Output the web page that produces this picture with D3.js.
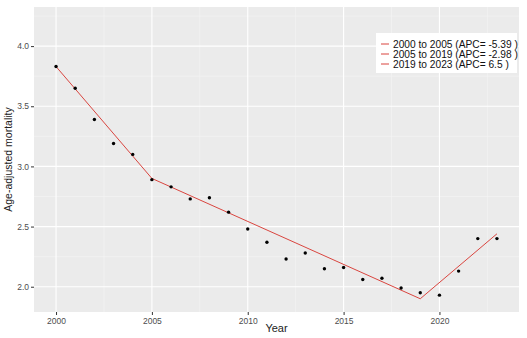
<!DOCTYPE html>
<html><head><meta charset="utf-8">
<script src="https://cdn.jsdelivr.net/npm/d3@7"></script>
<style>body{margin:0;background:#fff}svg{display:block}text{font-family:"Liberation Sans",Arial,sans-serif}</style>
</head><body>
<script>
const years = [2000,2001,2002,2003,2004,2005,2006,2007,2008,2009,2010,2011,2012,2013,2014,2015,2016,2017,2018,2019,2020,2021,2022,2023];
const observed = [3.83,3.65,3.39,3.19,3.10,2.89,2.83,2.73,2.74,2.62,2.48,2.37,2.23,2.28,2.15,2.16,2.06,2.07,1.99,1.95,1.93,2.13,2.40,2.40];
const segmentLabels = ["2000 to 2005 (APC= -5.39 )","2005 to 2019 (APC= -2.98 )","2019 to 2023 (APC= 6.5 )"];
const joinpointYears = [2000,2005,2019,2023];
const fittedValues = [3.83,2.90,1.90,2.44];
const xTicks = [2000,2005,2010,2015,2020];
const yTicks = [2.0,2.5,3.0,3.5,4.0];

const W=527,H=338;
const m={l:34,r:8,t:7,b:26};
const svg=d3.select("body").append("svg").attr("width",W).attr("height",H);
const x=d3.scaleLinear().domain([1998.85,2024.15]).range([m.l,W-m.r]);
const y=d3.scaleLinear().domain([1.79,4.325]).range([H-m.b,m.t]);

svg.append("rect").attr("x",m.l).attr("y",m.t).attr("width",W-m.r-m.l).attr("height",H-m.b-m.t).attr("fill","#ebebeb");
const g=svg.append("g");
// minor grid
const xMinor=[2002.5,2007.5,2012.5,2017.5,2022.5];
const yMinor=[2.25,2.75,3.25,3.75,4.25];
g.selectAll(".xm").data(xMinor).enter().append("line").attr("x1",d=>x(d)).attr("x2",d=>x(d)).attr("y1",m.t).attr("y2",H-m.b).attr("stroke","#f5f5f5").attr("stroke-width",0.6);
g.selectAll(".ym").data(yMinor).enter().append("line").attr("y1",d=>y(d)).attr("y2",d=>y(d)).attr("x1",m.l).attr("x2",W-m.r).attr("stroke","#f5f5f5").attr("stroke-width",0.6);
g.selectAll(".xM").data(xTicks).enter().append("line").attr("x1",d=>x(d)).attr("x2",d=>x(d)).attr("y1",m.t).attr("y2",H-m.b).attr("stroke","#fff").attr("stroke-width",1.1);
g.selectAll(".yM").data(yTicks).enter().append("line").attr("y1",d=>y(d)).attr("y2",d=>y(d)).attr("x1",m.l).attr("x2",W-m.r).attr("stroke","#fff").attr("stroke-width",1.1);

// axes
const xa=svg.append("g").attr("transform",`translate(0,${H-m.b})`).call(d3.axisBottom(x).tickValues(xTicks).tickFormat(d3.format("d")).tickSize(3).tickPadding(3));
const ya=svg.append("g").attr("transform",`translate(${m.l},0)`).call(d3.axisLeft(y).tickValues(yTicks).tickFormat(d3.format(".1f")).tickSize(3).tickPadding(2));
[xa,ya].forEach(a=>{a.select(".domain").remove();a.selectAll("line").attr("stroke","#333");a.selectAll("text").attr("fill","#4d4d4d").style("font-size","8.5px");});

// fitted line
const segs=[0,1,2].map(i=>[[joinpointYears[i],fittedValues[i]],[joinpointYears[i+1],fittedValues[i+1]]]);
segs.forEach(s=>svg.append("path").attr("d",d3.line().x(d=>x(d[0])).y(d=>y(d[1]))(s)).attr("fill","none").attr("stroke","#d9453f").attr("stroke-width",1));

// points
svg.selectAll(".pt").data(years).enter().append("circle").attr("cx",d=>x(d)).attr("cy",(d,i)=>y(observed[i])).attr("r",1.7).attr("fill","#000");

// titles
svg.append("text").attr("x",x(2011.5)).attr("y",H-6).attr("text-anchor","middle").style("font-size","11px").attr("fill","#222").text("Year");
svg.append("text").attr("transform",`translate(12,${(m.t+H-m.b)/2}) rotate(-90)`).attr("text-anchor","middle").style("font-size","10.5px").attr("fill","#222").text("Age-adjusted mortality");

// legend
const lg=svg.append("g");
lg.append("rect").attr("x",376).attr("y",33).attr("width",141).attr("height",40).attr("fill","#fff");
segmentLabels.forEach((t,i)=>{
  const yy=44+i*10;
  lg.append("line").attr("x1",381).attr("x2",389).attr("y1",yy).attr("y2",yy).attr("stroke","#d9453f").attr("stroke-width",1);
  lg.append("text").attr("x",393).attr("y",yy+3.5).style("font-size","10.2px").attr("fill","#111").text(t);
});
</script>
</body></html>
